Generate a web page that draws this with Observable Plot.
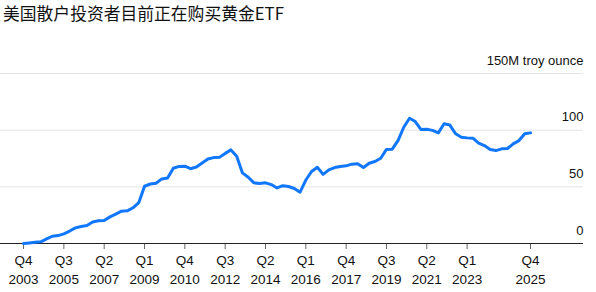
<!DOCTYPE html>
<html>
<head>
<meta charset="utf-8">
<script src="https://cdn.jsdelivr.net/npm/d3@7"></script>
<script src="https://cdn.jsdelivr.net/npm/@observablehq/plot@0.6"></script>
<style>
  html, body { margin: 0; padding: 0; background: #fff; }
  #title { font-family: "Noto Sans CJK SC", "Liberation Sans", sans-serif; font-size: 16.8px; color: #111;
           height: 28px; line-height: 26px; padding-left: 3px; white-space: nowrap; }
  #chart svg { display: block; }
</style>
</head>
<body>
<div id="title">美国散户投资者目前正在购买黄金ETF</div>
<div id="chart"></div>
<script>
// Quarterly holdings (M troy ounce), Q4 2003 .. Q4 2025
const startLabel = "Q4 2003";
const values = [
  0, 0.5, 1, 1.5, 4, 6.4, 7, 8.5, 11, 13.8,
  15, 15.8, 19, 20, 20.3, 23.5, 26, 28.5, 28.8, 31.5,
  36, 50.5, 52.5, 53.2, 57, 57.8, 66.4, 68, 68.2, 66,
  67.5, 71, 74.5, 75.8, 76, 79.5, 82.6, 77, 62.3, 58.5,
  53.5, 53, 53.5, 52, 49, 51, 50.3, 48.5, 45.3, 56,
  63.5, 67.3, 61, 65, 67, 68, 68.5, 70, 70.3, 67,
  70.8, 72.3, 75.2, 83, 83.2, 90.8, 102.6, 110.5, 107.6, 100.5,
  100.8, 99.8, 97.6, 105.6, 104.5, 96.8, 93.8, 93.2, 92.9, 88.5,
  86.4, 82.9, 82, 83.5, 83.8, 87.9, 90.8, 96.8, 97.6
];
// x tick positions (quarter index from Q4 2003) and labels
const xTickIdx = [0, 7, 14, 21, 28, 35, 42, 49, 56, 63, 70, 77, 88];
const xTickLabels = ["Q4\n2003", "Q3\n2005", "Q2\n2007", "Q1\n2009", "Q4\n2010", "Q3\n2012",
  "Q2\n2014", "Q1\n2016", "Q4\n2017", "Q3\n2019", "Q2\n2021", "Q1\n2023", "Q4\n2025"];
const yTicks = [0, 50, 100, 150];
const yTickLabels = ["0", "50", "100", "150M troy ounce"];

const data = values.map((v, i) => ({i, v}));
const font = "Liberation Sans, Arial, sans-serif";

const chart = Plot.plot({
  width: 596,
  height: 264,
  marginLeft: 0,
  marginRight: 13,
  marginTop: 45,
  marginBottom: 49,
  style: {fontFamily: font, fontSize: "13px", color: "#111", background: "#fff"},
  x: {domain: [-4, 97.2], axis: null, label: null},
  y: {domain: [0, 150], axis: null, label: null},
  marks: [
    Plot.ruleY([50, 100, 150], {stroke: "#e4e4e4", strokeWidth: 1}),
    Plot.axisX({
      ticks: xTickIdx,
      tickFormat: d => xTickLabels[xTickIdx.indexOf(d)],
      tickSize: 6,
      tickPadding: 3,
      stroke: "#666",
      fill: "#111",
      fontSize: 13.5,
      lineHeight: 1.35,
      fontFamily: font,
      label: null
    }),
    Plot.ruleY([0], {stroke: "#222", strokeWidth: 1}),
    Plot.lineY(data, {x: "i", y: "v", stroke: "#1177ff", strokeWidth: 3, strokeLinejoin: "round", strokeLinecap: "round"}),
    Plot.text(yTicks, {
      y: d => d,
      text: (d, i) => yTickLabels[i],
      frameAnchor: "right",
      textAnchor: "end",
      dy: -13,
      fill: "#111",
      fontSize: 13,
      fontFamily: font
    })
  ]
});
document.getElementById("chart").appendChild(chart);
</script>
</body>
</html>
